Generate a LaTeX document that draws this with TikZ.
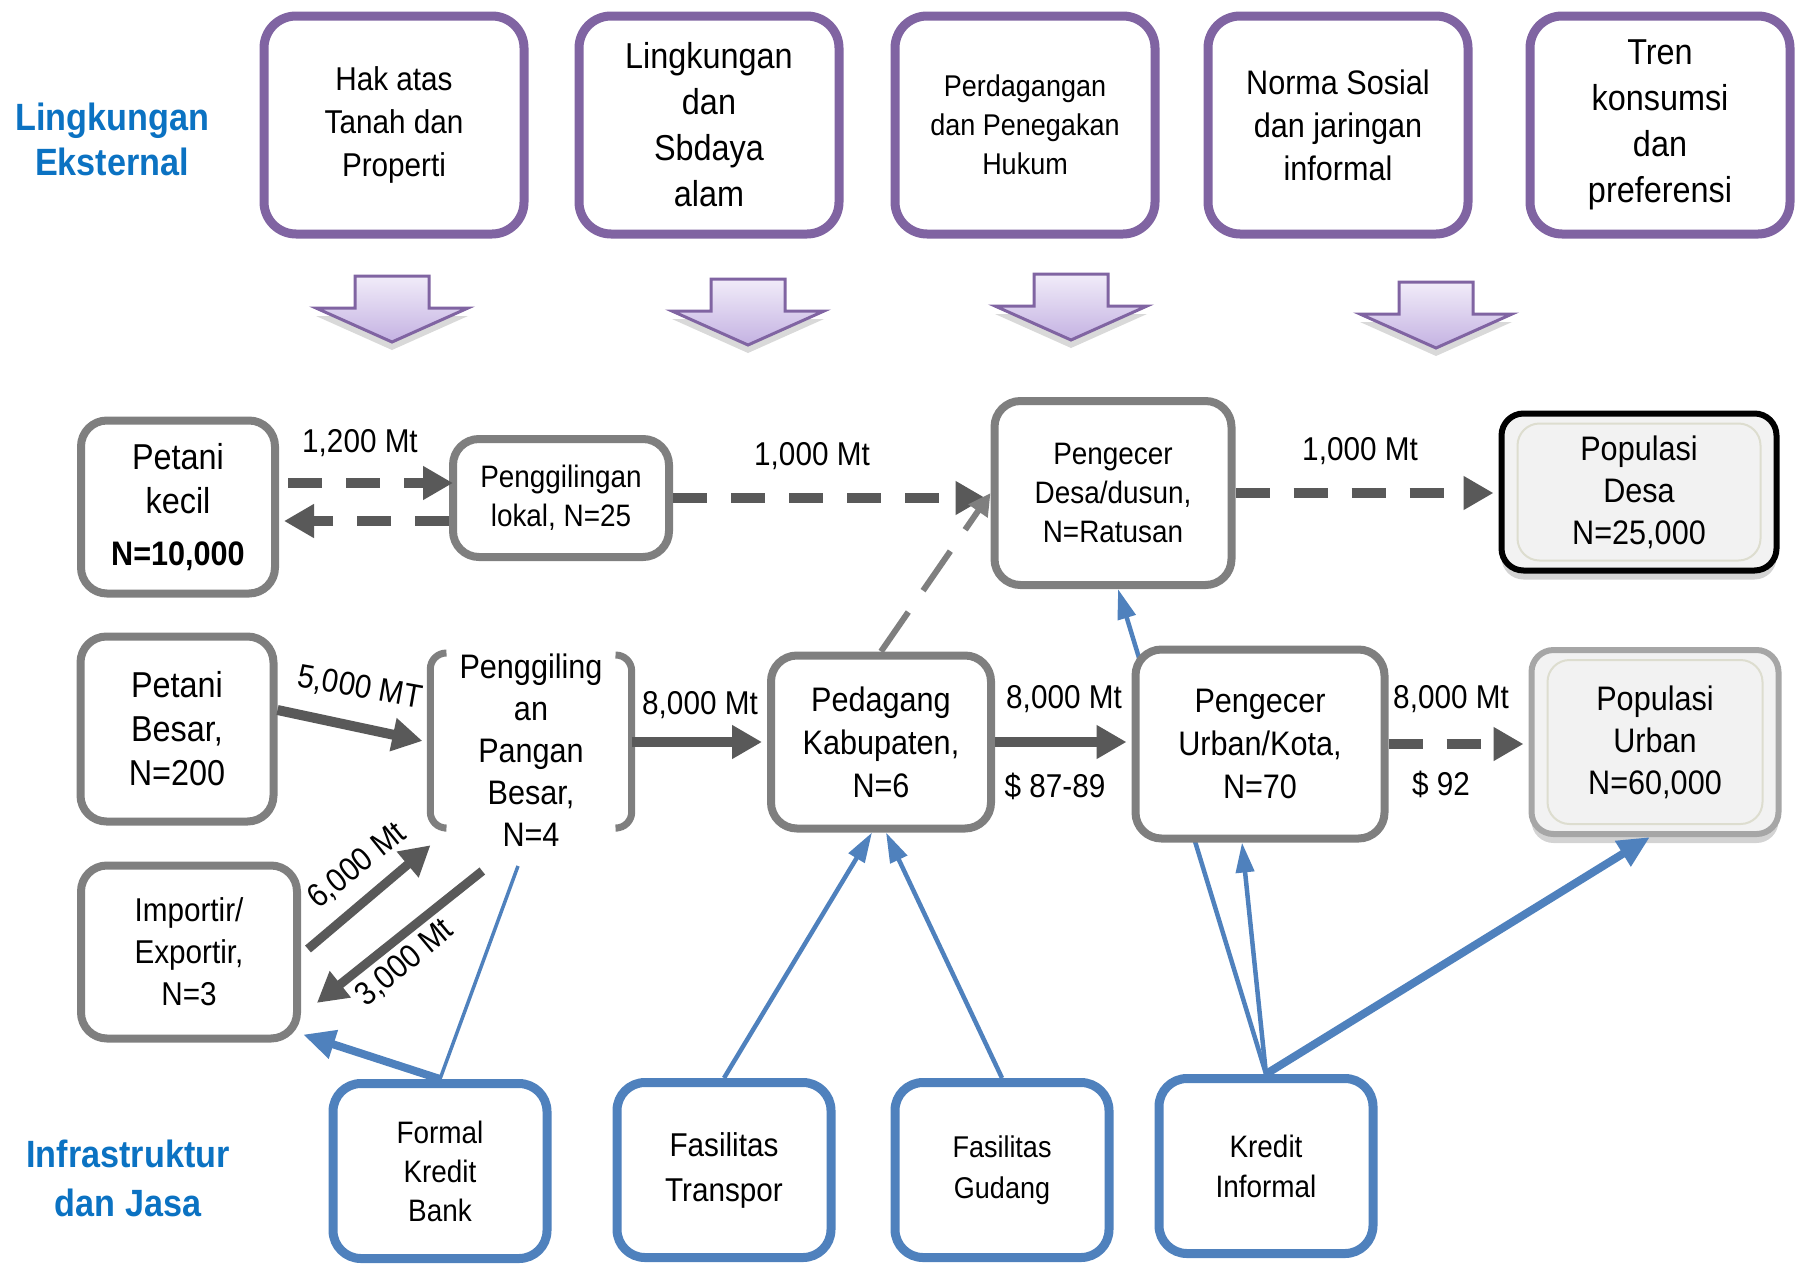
\documentclass[tikz,border=0pt]{standalone}
\usepackage{fontspec}
\setmainfont{Liberation Sans}[FakeStretch=0.9]
\usetikzlibrary{arrows.meta,shadows,backgrounds}

\definecolor{extpurple}{HTML}{8064A2}
\definecolor{boxgray}{HTML}{7F7F7F}
\definecolor{flowgray}{HTML}{595959}
\definecolor{infrablue}{HTML}{4F81BD}
\definecolor{headblue}{HTML}{0B72C2}
\definecolor{popgray}{HTML}{A6A6A6}
\definecolor{popfill}{HTML}{F2F2F2}
\definecolor{bevel}{HTML}{DDDDCF}
\definecolor{lavtop}{HTML}{F1ECF9}
\definecolor{lavbot}{HTML}{C4B2E2}

\begin{document}
\begin{tikzpicture}[x=1pt,y=-1pt,
    every text node part/.style={align=center},
    head/.style={text=headblue,font=\bfseries\fontsize{38}{45}\selectfont},
    extbox/.style={draw=extpurple,line width=9pt,rounded corners=32pt,fill=white,inner sep=0pt,
      minimum width=260pt,minimum height=218pt},
    inflow/.style={draw=extpurple,line width=3pt,top color=lavtop,bottom color=lavbot,
      drop shadow={shadow xshift=0pt,shadow yshift=-8pt,opacity=.3}},
    actor/.style={draw=boxgray,line width=8pt,rounded corners=26pt,fill=white,inner sep=0pt},
    popbox/.style={line width=6pt,rounded corners=22pt,fill=popfill,inner sep=0pt,
      font=\fontsize{34}{42}\selectfont,
      drop shadow={shadow xshift=0pt,shadow yshift=-9pt,opacity=.35},
      path picture={\draw[bevel,line width=2pt] ([shift={(16,10)}]path picture bounding box.north west)
        rectangle ([shift={(-16,-10)}]path picture bounding box.south east);}},
    infra/.style={draw=infrablue,line width=9pt,rounded corners=28pt,fill=white,inner sep=0pt,
      minimum width=214pt,minimum height=175pt},
    bracket/.style={draw=boxgray,line width=7pt,rounded corners=16pt},
    flow/.style={draw=flowgray,line width=10pt,shorten >=5pt,-{Triangle[length=30pt,width=32pt]}},
    flowdash/.style={flow,dash pattern=on 34pt off 24pt},
    feeder/.style={draw=boxgray,line width=6pt,dash pattern=on 48pt off 26pt,-{Triangle[length=22pt,width=22pt]}},
    support/.style={draw=infrablue,line width=4.5pt,-{Triangle[length=30pt,width=18pt]}},
    qty/.style={font=\fontsize{33}{40}\selectfont,anchor=base,inner sep=0pt},
  ]
  \useasboundingbox (0,0) rectangle (1803,1264);

  % external environment
  \node[head] (ext) at (112,139) {Lingkungan\\Eksternal};
  \node[extbox,font=\fontsize{33}{43}\selectfont] (hak) at (394,125) {Hak atas\\Tanah dan\\Properti};
  \node[extbox,font=\fontsize{36}{46}\selectfont] (alam) at (709,125) {Lingkungan\\dan\\Sbdaya\\alam};
  \node[extbox,font=\fontsize{30}{39}\selectfont] (hukum) at (1025,125) {Perdagangan\\dan Penegakan\\Hukum};
  \node[extbox,font=\fontsize{34}{43}\selectfont] (norma) at (1338,125) {Norma Sosial\\dan jaringan\\informal};
  \node[extbox,font=\fontsize{36}{46}\selectfont] (tren) at (1660,125) {Tren\\konsumsi\\dan\\preferensi};

  \draw[inflow] (355,276) -- ++(74,0) -- ++(0,32) -- ++(39,0) -- ++(-76,34) -- ++(-76,-34) -- ++(39,0) -- cycle;
  \draw[inflow] (711,279) -- ++(74,0) -- ++(0,32) -- ++(39,0) -- ++(-76,34) -- ++(-76,-34) -- ++(39,0) -- cycle;
  \draw[inflow] (1034,274) -- ++(74,0) -- ++(0,32) -- ++(39,0) -- ++(-76,34) -- ++(-76,-34) -- ++(39,0) -- cycle;
  \draw[inflow] (1399,282) -- ++(74,0) -- ++(0,32) -- ++(39,0) -- ++(-76,34) -- ++(-76,-34) -- ++(39,0) -- cycle;

  % market chain
  \node[actor,minimum width=194pt,minimum height=173pt,font=\fontsize{36}{44}\selectfont] (kecil) at (178,507)
    {Petani\\kecil\\[8pt]{\bfseries\fontsize{34}{44}\selectfont N=10,000}};
  \node[actor,minimum width=216pt,minimum height=118pt,font=\fontsize{31}{39}\selectfont] (lokal) at (561,498)
    {Penggilingan\\lokal, N=25};
  \node[actor,minimum width=237pt,minimum height=184pt,font=\fontsize{31}{39}\selectfont] (desa) at (1113,493)
    {Pengecer\\Desa/dusun,\\N=Ratusan};
  \node[popbox,draw=black,minimum width=275pt,minimum height=157pt] (popdesa) at (1639,492)
    {Populasi\\Desa\\N=25,000};

  \node[actor,minimum width=193pt,minimum height=185pt,font=\fontsize{36}{44}\selectfont] (besar) at (177,729)
    {Petani\\Besar,\\N=200};
  \node[minimum width=201pt,inner sep=0pt,font=\fontsize{34}{42}\selectfont] (pangan) at (531,750)
    {Penggiling\\an\\Pangan\\Besar,\\N=4};
  \draw[bracket] ([shift={(14,-97)}]pangan.west) -- ([shift={(0,-97)}]pangan.west)
    -- ([shift={(0,78)}]pangan.west) -- ([shift={(14,78)}]pangan.west);
  \draw[bracket] ([shift={(-14,-95)}]pangan.east) -- ([shift={(0,-95)}]pangan.east)
    -- ([shift={(0,78)}]pangan.east) -- ([shift={(-14,78)}]pangan.east);
  \node[actor,minimum width=220pt,minimum height=173pt,font=\fontsize{34}{43}\selectfont] (pedagang) at (881,742)
    {Pedagang\\Kabupaten,\\N=6};
  \node[actor,minimum width=249pt,minimum height=189pt,font=\fontsize{34}{43}\selectfont] (urban) at (1260,744)
    {Pengecer\\Urban/Kota,\\N=70};
  \node[popbox,draw=popgray,minimum width=247pt,minimum height=184pt] (popurban) at (1655,742)
    {Populasi\\Urban\\N=60,000};
  \node[actor,minimum width=216pt,minimum height=173pt,font=\fontsize{33}{42}\selectfont] (importir) at (189,952)
    {Importir/\\Exportir,\\N=3};

  % infrastructure and services
  \node[head,font=\bfseries\fontsize{38}{49}\selectfont] (infrajasa) at (128,1178) {Infrastruktur\\dan Jasa};
  \node[infra,font=\fontsize{31}{39}\selectfont] (bank) at (440,1171) {Formal\\Kredit\\Bank};
  \node[infra,font=\fontsize{33}{45}\selectfont] (transpor) at (724,1170) {Fasilitas\\Transpor};
  \node[infra,font=\fontsize{30}{41}\selectfont] (gudang) at (1002,1170) {Fasilitas\\Gudang};
  \node[infra,font=\fontsize{31}{40}\selectfont] (kredit) at (1266,1166) {Kredit\\Informal};

  % product flows
  \draw[flowdash] ([shift={(9,-24)}]kecil.east) -- ([shift={(9,-24)}]kecil.east -| lokal.west);
  \draw[flowdash] ([shift={(0,23)}]lokal.west) -- ([shift={(0,23)}]lokal.west -| kecil.east);
  \draw[flowdash] (lokal.east) -- (lokal.east -| desa.west);
  \draw[flowdash] (desa.east) -- (desa.east -| popdesa.west);
  \draw[flow] ([shift={(0,-19)}]besar.east) -- ([shift={(-3,-8)}]pangan.west);
  \draw[flow,line width=9pt] ([shift={(7,-3)}]importir.east) -- ([shift={(4,92)}]pangan.west);
  \draw[flow,line width=9pt] ([shift={(52,121)}]pangan.west) -- ([shift={(12,54)}]importir.east);
  \draw[flow] (pedagang.west -| pangan.east) -- (pedagang.west);
  \draw[flow] (pedagang.east) -- (pedagang.east -| urban.west);
  \draw[flowdash] (urban.east) -- (urban.east -| popurban.west);
  \draw[feeder] (pedagang.north) -- (desa.west);

  \node[qty] (q1) at (360,452) {1,200 Mt};
  \node[qty] (q2) at (812,465) {1,000 Mt};
  \node[qty] (q3) at (1360,460) {1,000 Mt};
  \node[qty] (q4) at (700,714) {8,000 Mt};
  \node[qty] (q5) at (1064,708) {8,000 Mt};
  \node[qty] (q6) at (1055,797) {\$ 87-89};
  \node[qty] (q7) at (1451,708) {8,000 Mt};
  \node[qty] (q8) at (1441,795) {\$ 92};
  \node[qty,anchor=center,rotate=-10] (q9) at (360,688) {5,000 MT};
  \node[qty,anchor=center,rotate=39] (q10) at (357,866) {6,000 Mt};
  \node[qty,anchor=center,rotate=40] (q11) at (405,963) {3,000 Mt};

  % support links
  \begin{pgfonlayer}{background}
    \draw[support] (kredit.north) -- ([xshift=5pt]desa.south);
  \end{pgfonlayer}
  \draw[support] (kredit.north) -- ([xshift=-18pt]urban.south);
  \draw[support,line width=8pt,-{Triangle[length=32pt,width=28pt]}] (kredit.north) -- ([xshift=-5pt]popurban.south);
  \draw[support] (transpor.north) -- ([xshift=-9pt]pedagang.south);
  \draw[support] (gudang.north) -- ([xshift=5pt]pedagang.south);
  \draw[support,line width=8pt,-{Triangle[length=32pt,width=28pt]}] (bank.north) -- ([shift={(2,-8)}]importir.south east);
  \draw[infrablue,line width=3.5pt] (bank.north) -- ([shift={(-13,116)}]pangan.center);
\end{tikzpicture}
\end{document}
